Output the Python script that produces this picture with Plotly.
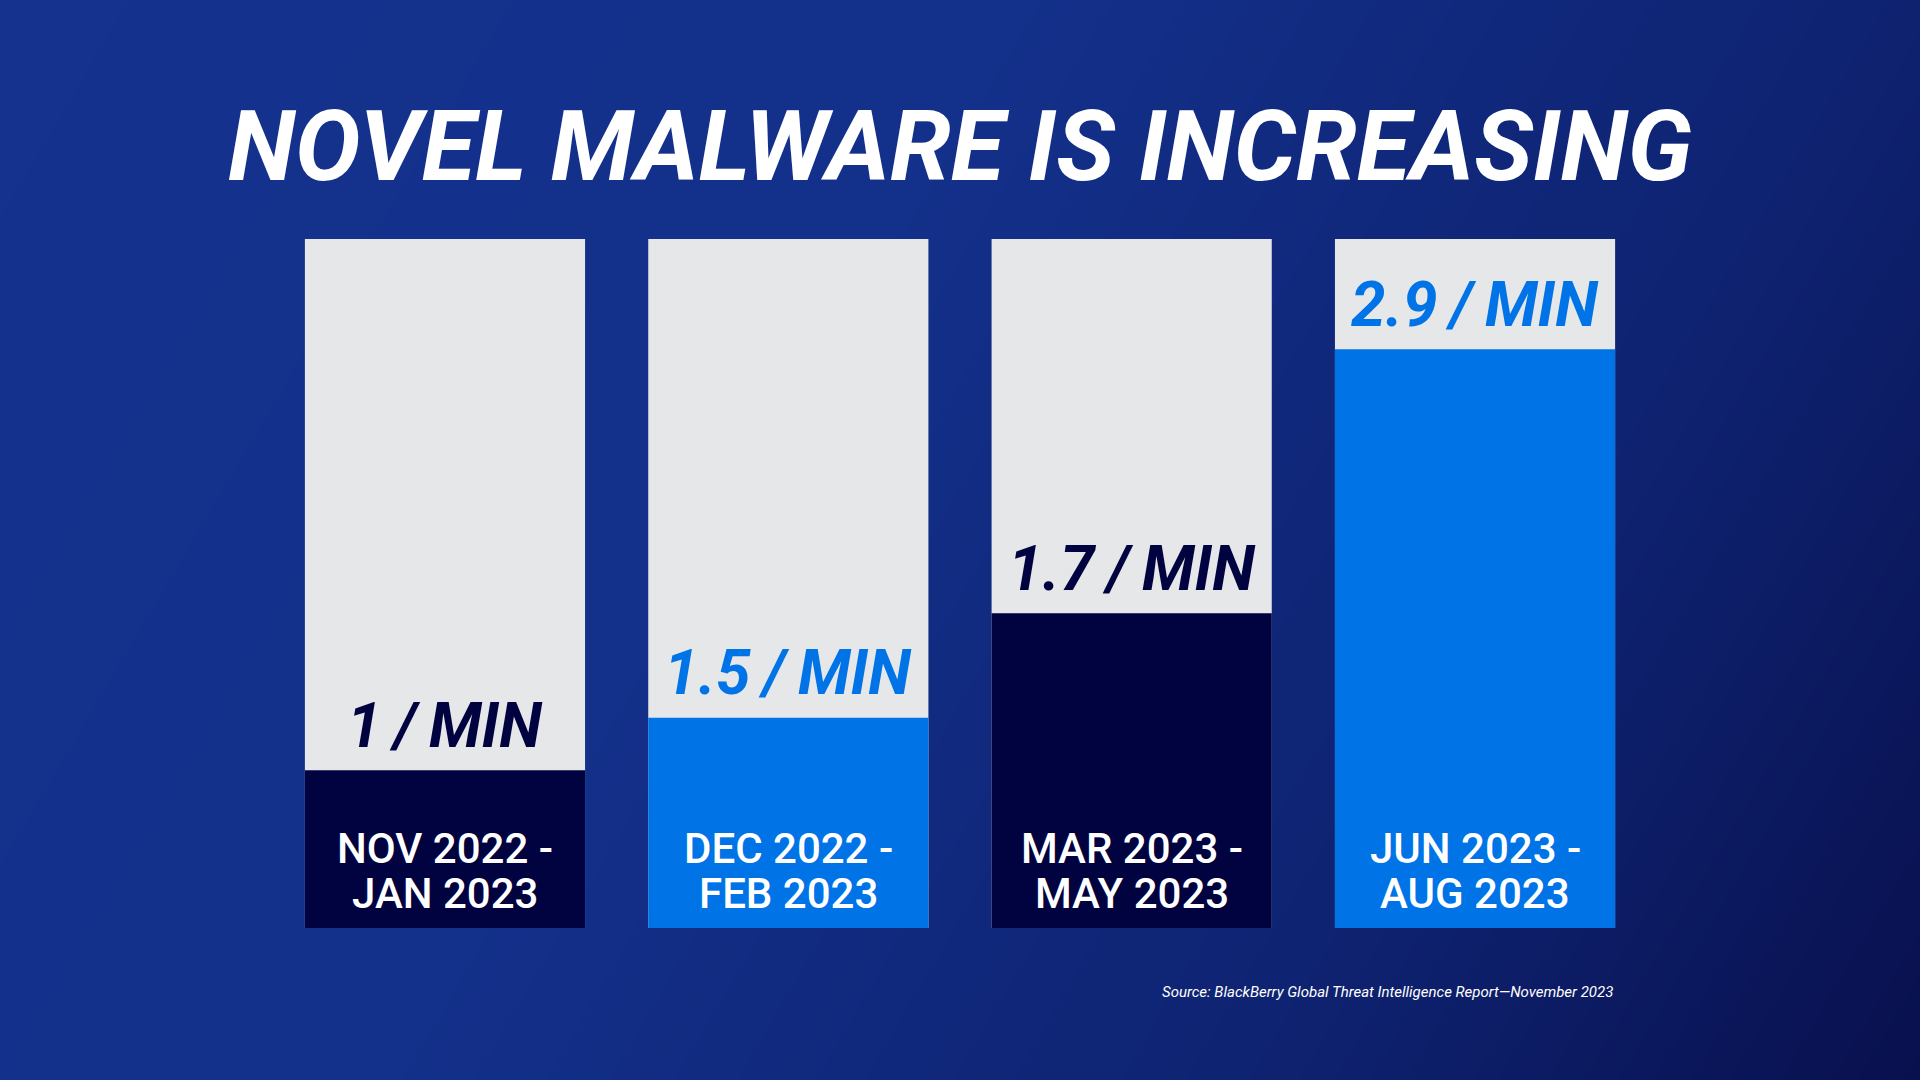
import numpy as np
import plotly.graph_objects as go

# ---- data ----
title_text = "NOVEL MALWARE IS INCREASING"
periods = ["NOV 2022 -<br>JAN 2023", "DEC 2022 -<br>FEB 2023",
           "MAR 2023 -<br>MAY 2023", "JUN 2023 -<br>AUG 2023"]
rates = [1, 1.5, 1.7, 2.9]
rate_labels = ["1\u2009/\u2009MIN", "1.5\u2009/\u2009MIN", "1.7\u2009/\u2009MIN", "2.9\u2009/\u2009MIN"]
fill_share = [0.229, 0.305, 0.457, 0.840]   # filled share of each column
full_share = [1, 1, 1, 1]
fill_colors = ["#000340", "#0073E6", "#000340", "#0073E6"]
label_colors = ["#000340", "#0073E6", "#000340", "#0073E6"]
source_text = "Source: BlackBerry Global Threat Intelligence Report\u2014November 2023"

W, H = 1920, 1080
fig = go.Figure()

# background gradient
gx = np.linspace(0, 1, 96)
gy = np.linspace(0, 1, 54)
GX, GY = np.meshgrid(gx, gy)
T = 0.75 * GX + 0.25 * (1 - GY)
fig.add_trace(go.Heatmap(
    x=gx, y=gy, z=T, zmin=0, zmax=1, zsmooth="best", showscale=False, hoverinfo="skip",
    colorscale=[[0, "#14328E"], [0.4, "#13308A"], [0.75, "#0E2270"], [1, "#09104E"]],
    xaxis="x", yaxis="y"))

xs = list(range(len(periods)))
fig.add_trace(go.Bar(x=xs, y=full_share, marker=dict(color="#E6E7E9", line=dict(width=0)),
                     xaxis="x2", yaxis="y2", hoverinfo="skip"))
fig.add_trace(go.Bar(x=xs, y=fill_share, marker=dict(color=fill_colors, line=dict(width=0)),
                     xaxis="x2", yaxis="y2", hoverinfo="skip"))

annotations = []
annotations.append(dict(text=title_text, x=0.5, y=1 - 147 / H, xref="paper", yref="paper",
                        xanchor="center", yanchor="middle", showarrow=False,
                        font=dict(family="Roboto", size=98, color="white", weight="bold", style="italic")))
for i, (lab, fs, col) in enumerate(zip(rate_labels, fill_share, label_colors)):
    annotations.append(dict(text=lab, x=i, y=fs, xref="x2", yref="y2", yshift=45,
                            xanchor="center", yanchor="middle", showarrow=False,
                            font=dict(family="Roboto", size=62, color=col, weight="bold", style="italic")))
line_y = [1 - 848 / H, 1 - 893 / H]
for i, p in enumerate(periods):
    for j, part in enumerate(p.split("<br>")):
        annotations.append(dict(text=part, x=i, y=line_y[j], xref="x2", yref="paper",
                                xanchor="center", yanchor="middle", showarrow=False,
                                font=dict(family="Roboto", size=42, color="white", weight=500)))
annotations.append(dict(text=source_text, x=1615 / W, y=1 - 992 / H, xref="paper", yref="paper",
                        xanchor="right", yanchor="middle", showarrow=False,
                        font=dict(family="Roboto", size=15, color="white", style="italic")))

fig.update_layout(
    width=W, height=H, margin=dict(l=0, r=0, t=0, b=0),
    paper_bgcolor="#12308A", plot_bgcolor="rgba(0,0,0,0)",
    showlegend=False, barmode="overlay", bargap=0.184,
    xaxis=dict(domain=[0, 1], range=[0, 1], visible=False, fixedrange=True),
    yaxis=dict(domain=[0, 1], range=[0, 1], visible=False, fixedrange=True),
    xaxis2=dict(domain=[273.3 / W, 1646.7 / W], range=[-0.5, 3.5], visible=False,
                anchor="y2", fixedrange=True),
    yaxis2=dict(domain=[1 - 928 / H, 1 - 239 / H], range=[0, 1], visible=False,
                anchor="x2", fixedrange=True),
    annotations=annotations,
)

fig.write_html("out.html", config={"displayModeBar": False},
               post_script="document.body.style.margin='0';document.body.style.overflow='hidden';")
